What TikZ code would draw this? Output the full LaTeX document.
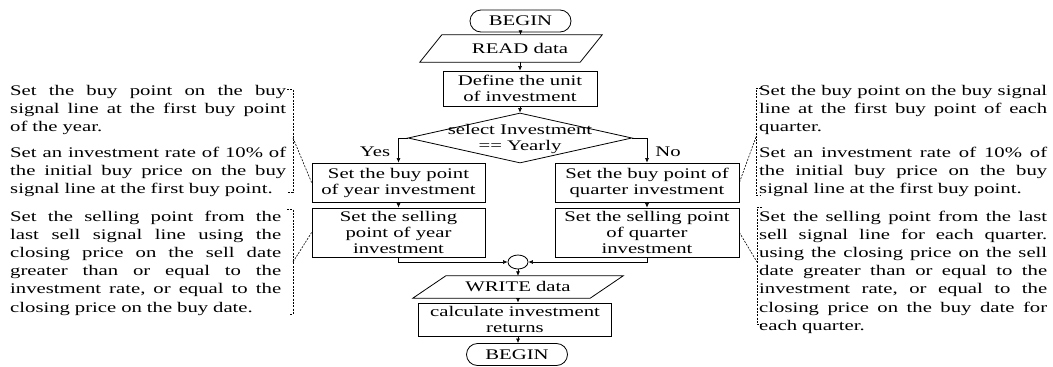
\documentclass[tikz,border=0pt]{standalone}
\usepackage{fontspec}
\setmainfont{Liberation Serif}[FakeStretch=1.41]
\usetikzlibrary{arrows.meta,shapes.geometric,shapes.misc,calc}
\newcommand\annfont{\fontsize{14.7pt}{18.2pt}\selectfont}
\newcommand\boxfont{\fontsize{14.7pt}{16pt}\selectfont}
\def\JLend{\JLend}
\def\JLa#1 #2\JLend{#1\if\relax\detokenize{#2}\relax\else\hfill\JLa#2\JLend\fi}
\newcommand\JL[2]{\leavevmode\hbox to #1{\JLa#2 \JLend}}
\begin{document}
\begin{tikzpicture}[x=1pt,y=-1pt,
  box/.style={draw, line width=0.8pt, font=\boxfont, align=center, inner sep=0pt},
  term/.style={draw, rounded rectangle, line width=0.8pt, font=\boxfont, inner sep=0pt, minimum width=101pt, minimum height=22pt},
  io/.style={font=\boxfont, inner sep=0pt},
  para/.style={line width=0.8pt},
  arr/.style={line width=0.6pt, -{Latex[length=4.5pt,width=4pt]}},
  lbl/.style={font=\boxfont, inner sep=0pt},
  ann/.style={font=\annfont, text width=#1, align=left, inner sep=0pt, anchor=base west},
  brk/.style={line width=0.6pt, dash pattern=on 2pt off 1.3pt},
]
\useasboundingbox (0,0) rectangle (1053,367);
% flowchart
\node[term] (begin1) at (520.5,21) {BEGIN};
\node[io, minimum width=182pt, minimum height=27pt] (read) at (511,48.5) {\hspace*{18pt}READ data};
\draw[para] ($(read.north west)+(22,0)$) -- (read.north east) -- ($(read.south east)+(-22,0)$) -- (read.south west) -- cycle;
\node[box, minimum width=154pt, minimum height=35pt] (define) at (520,88.5) {Define the unit\\of investment};
\node[draw, diamond, line width=0.8pt, minimum width=224pt, minimum height=50pt, inner sep=0pt] (dec) at (520,138) {};
\node[lbl, align=center] (dect) at (520,139) {select Investment\\== Yearly};
\node[lbl] (yes) at (375,152) {Yes};
\node[lbl] (no) at (668,152) {No};
\node[box, minimum width=173pt, minimum height=39pt] (lbuy) at (398.5,182.5) {Set the buy point\\of year investment};
\node[box, minimum width=173pt, minimum height=49pt] (lsell) at (398.5,232.5) {Set the selling\\point of year\\investment};
\node[box, minimum width=184pt, minimum height=39pt] (rbuy) at (647,182.5) {Set the buy point of\\quarter investment};
\node[box, minimum width=184pt, minimum height=49pt] (rsell) at (647,232.5) {Set the selling point\\of quarter\\investment};
\node[draw, ellipse, line width=0.8pt, minimum width=20pt, minimum height=14pt, inner sep=0pt] (merge) at (518,262) {};
\node[io, minimum width=210pt, minimum height=22pt] (write) at (518,287) {WRITE data};
\draw[para] ($(write.north west)+(33,0)$) -- (write.north east) -- ($(write.south east)+(-33,0)$) -- (write.south west) -- cycle;
\node[box, minimum width=193pt, minimum height=33pt] (calc) at (515,319.5) {calculate investment\\returns};
\node[term] (begin2) at (517,354.5) {BEGIN};
% connectors
\draw[arr] (begin1.south) -- (begin1.south |- read.north);
\draw[arr] (define.north |- read.south) -- (define.north);
\draw[arr] (define.south) -- (dec.north);
\draw[arr] (dec.west) -| (lbuy.north);
\draw[arr] (dec.east) -| (rbuy.north);
\draw[arr] (lbuy.south) -- (lsell.north);
\draw[arr] (rbuy.south) -- (rsell.north);
\draw[arr] (lsell.south) |- (merge.west);
\draw[arr] (rsell.south) |- (merge.east);
\draw[arr] (merge.south) -- (merge.south |- write.north);
\draw[arr] (merge.south |- write.south) -- (merge.south |- calc.north);
\draw[arr] (merge.south |- calc.south) -- (merge.south |- begin2.north);
% left annotations
\node[ann=276pt] (l1a) at (10,95) {\JL{276pt}{Set the buy point on the buy}\\\JL{276pt}{signal line at the first buy point}\\of the year.};
\node[ann=276pt] (l1b) at (10,157) {\JL{276pt}{Set an investment rate of 10\% of}\\\JL{276pt}{the initial buy price on the buy}\\signal line at the first buy point.};
\node[ann=271pt] (l2) at (10,221) {\JL{271pt}{Set the selling point from the}\\\JL{271pt}{last sell signal line using the}\\\JL{271pt}{closing price on the sell date}\\\JL{271pt}{greater than or equal to the}\\\JL{271pt}{investment rate, or equal to the}\\closing price on the buy date.};
% right annotations
\node[ann=288pt] (r1a) at (759,95) {\JL{288pt}{Set the buy point on the buy signal}\\\JL{288pt}{line at the first buy point of each}\\quarter.};
\node[ann=288pt] (r1b) at (759,157) {\JL{288pt}{Set an investment rate of 10\% of}\\\JL{288pt}{the initial buy price on the buy}\\signal line at the first buy point.};
\node[ann=288pt] (r2) at (759,221) {\JL{288pt}{Set the selling point from the last}\\\JL{288pt}{sell signal line for each quarter.}\\\JL{288pt}{using the closing price on the sell}\\\JL{288pt}{date greater than or equal to the}\\\JL{288pt}{investment rate, or equal to the}\\\JL{288pt}{closing price on the buy date for}\\each quarter.};
% brackets
\draw[brk] (287,89) -- (293,89) -- (293,192) -- (287,192);
\coordinate (lb1) at (293,138);
\draw[brk] (lb1) -- (lbuy.west);
\draw[brk] (287,209) -- (293,209) -- (293,314) -- (289,314);
\coordinate (lb2) at (293,262);
\draw[brk] (lb2) -- (lsell.west);
\draw[brk] (761,88) -- (756,88) -- (756,195) -- (761,195);
\coordinate (rb1) at (756,137);
\draw[brk] (rb1) -- (rbuy.east);
\draw[brk] (762,207) -- (757,207) -- (757,324) -- (762,324);
\coordinate (rb2) at (757,262);
\draw[brk] (rsell.east) -- (rb2);
\end{tikzpicture}
\end{document}
